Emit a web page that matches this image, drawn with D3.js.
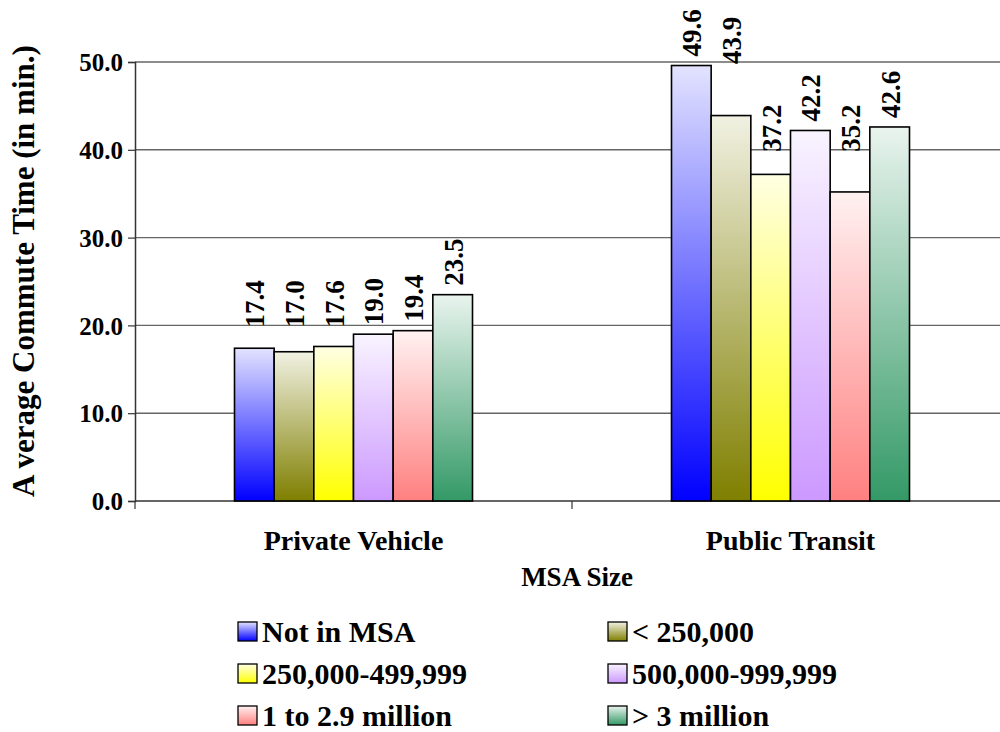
<!DOCTYPE html>
<html><head><meta charset="utf-8">
<script src="https://cdn.jsdelivr.net/npm/d3@7"></script>
<style>body{margin:0;background:#fff}svg{display:block}</style>
</head><body><svg id="c" width="1000" height="732" font-family="Liberation Serif" font-weight="bold"></svg>
<script>
const categories = ["Private Vehicle", "Public Transit"];
const seriesNames = ["Not in MSA", "< 250,000", "250,000-499,999", "500,000-999,999", "1 to 2.9 million", "> 3 million"];
const seriesColors = ["#0000FF", "#7F7F00", "#FFFF00", "#CC99FF", "#FF8080", "#339966"];
const privateVehicle = [17.4, 17.0, 17.6, 19.0, 19.4, 23.5];
const publicTransit = [49.6, 43.9, 37.2, 42.2, 35.2, 42.6];
const yTicks = [0, 10, 20, 30, 40, 50];

const FONT = "Liberation Serif";
const values = [privateVehicle, publicTransit];
const svg = d3.select("#c");
const L = 135, R = 1009, T = 62, B = 501;
const x0 = d3.scaleBand().domain(categories).range([L, R]);
const x1 = d3.scaleBand().domain(d3.range(seriesNames.length)).range([0, 238]);
const y = d3.scaleLinear().domain([0, 50]).range([B, T]);

function txt(sel, size) {
  return sel.attr("font-family", FONT).attr("font-weight", "bold").attr("font-size", size).attr("fill", "#000");
}

const defs = svg.append("defs");
seriesColors.forEach((c, i) => {
  const g = defs.append("linearGradient").attr("id", "grad" + i).attr("x1", 0).attr("y1", 0).attr("x2", 0).attr("y2", 1);
  g.append("stop").attr("offset", "0%").attr("stop-color", d3.interpolateRgb("#ffffff", c)(0.11));
  g.append("stop").attr("offset", "100%").attr("stop-color", c);
});

// gridlines
svg.append("g").selectAll("line").data(yTicks.filter(d => d > 0)).join("line")
  .attr("x1", L).attr("x2", R).attr("y1", d => y(d)).attr("y2", d => y(d))
  .attr("stroke", "#666").attr("stroke-width", 1.4);

// y axis
const yAxis = svg.append("g").attr("transform", `translate(${L},0)`)
  .call(d3.axisLeft(y).tickValues(yTicks).tickFormat(d3.format(".1f")).tickSize(7).tickPadding(5));
yAxis.attr("font-family", FONT).attr("font-size", 25);
yAxis.select(".domain").attr("stroke", "#333").attr("stroke-width", 1.5);
yAxis.selectAll(".tick line").attr("stroke", "#333").attr("stroke-width", 1.2);
txt(yAxis.selectAll("text"), 25).attr("dy", "0.35em");

// x axis
const xAxis = svg.append("g").attr("transform", `translate(0,${B})`);
xAxis.append("line").attr("x1", L).attr("x2", R).attr("stroke", "#333").attr("stroke-width", 1.5);
xAxis.selectAll("line.t").data([L, x0(categories[1])]).join("line").attr("class", "t")
  .attr("x1", d => d).attr("x2", d => d).attr("y1", 0).attr("y2", 8).attr("stroke", "#333").attr("stroke-width", 1.2);
txt(xAxis.selectAll("text").data(categories).join("text"), 28)
  .attr("x", d => x0(d) + x0.bandwidth() / 2).attr("y", 49).attr("text-anchor", "middle")
  .text(d => d);

// bars
const LABEL_SIZE = 27, LABEL_LEN = 47, GAP = 9;
categories.forEach((cat, ci) => {
  const gx = x0(cat) + x0.bandwidth() / 2 - 119;
  const g = svg.append("g").attr("transform", `translate(${gx},0)`);
  g.selectAll("rect").data(values[ci]).join("rect")
    .attr("x", (d, i) => x1(i)).attr("width", x1.bandwidth())
    .attr("y", d => y(d)).attr("height", d => y(0) - y(d))
    .attr("fill", (d, i) => `url(#grad${i})`).attr("stroke", "#000").attr("stroke-width", 1.6);
  txt(g.selectAll("text").data(values[ci]).join("text"), LABEL_SIZE)
    .attr("transform", (d, i) => {
      let bottom = y(d) - GAP;
      const top = bottom - LABEL_LEN;
      yTicks.forEach(t => { const gy = y(t); if (gy > top && gy < bottom) bottom = gy + 2; });
      return `translate(${x1(i) + x1.bandwidth() / 2 + 10},${bottom}) rotate(-90)`;
    })
    .text(d => d.toFixed(1));
});

// axis titles
txt(svg.append("text"), 31).attr("transform", `translate(34,271) rotate(-90)`).attr("text-anchor", "middle")
  .text("A verage Commute Time (in min.)");
txt(svg.append("text"), 27).attr("x", 577).attr("y", 586).attr("text-anchor", "middle").text("MSA Size");

// legend
const lg = svg.append("g");
seriesNames.forEach((n, i) => {
  const col = i % 2, row = Math.floor(i / 2);
  const lx = col === 0 ? 238 : 608, ly = 622 + row * 42;
  lg.append("rect").attr("x", lx).attr("y", ly).attr("width", 19).attr("height", 19)
    .attr("fill", `url(#grad${i})`).attr("stroke", "#000").attr("stroke-width", 1.3);
  txt(lg.append("text"), 30).attr("x", lx + 24).attr("y", ly + 20).text(n);
});
</script></body></html>
